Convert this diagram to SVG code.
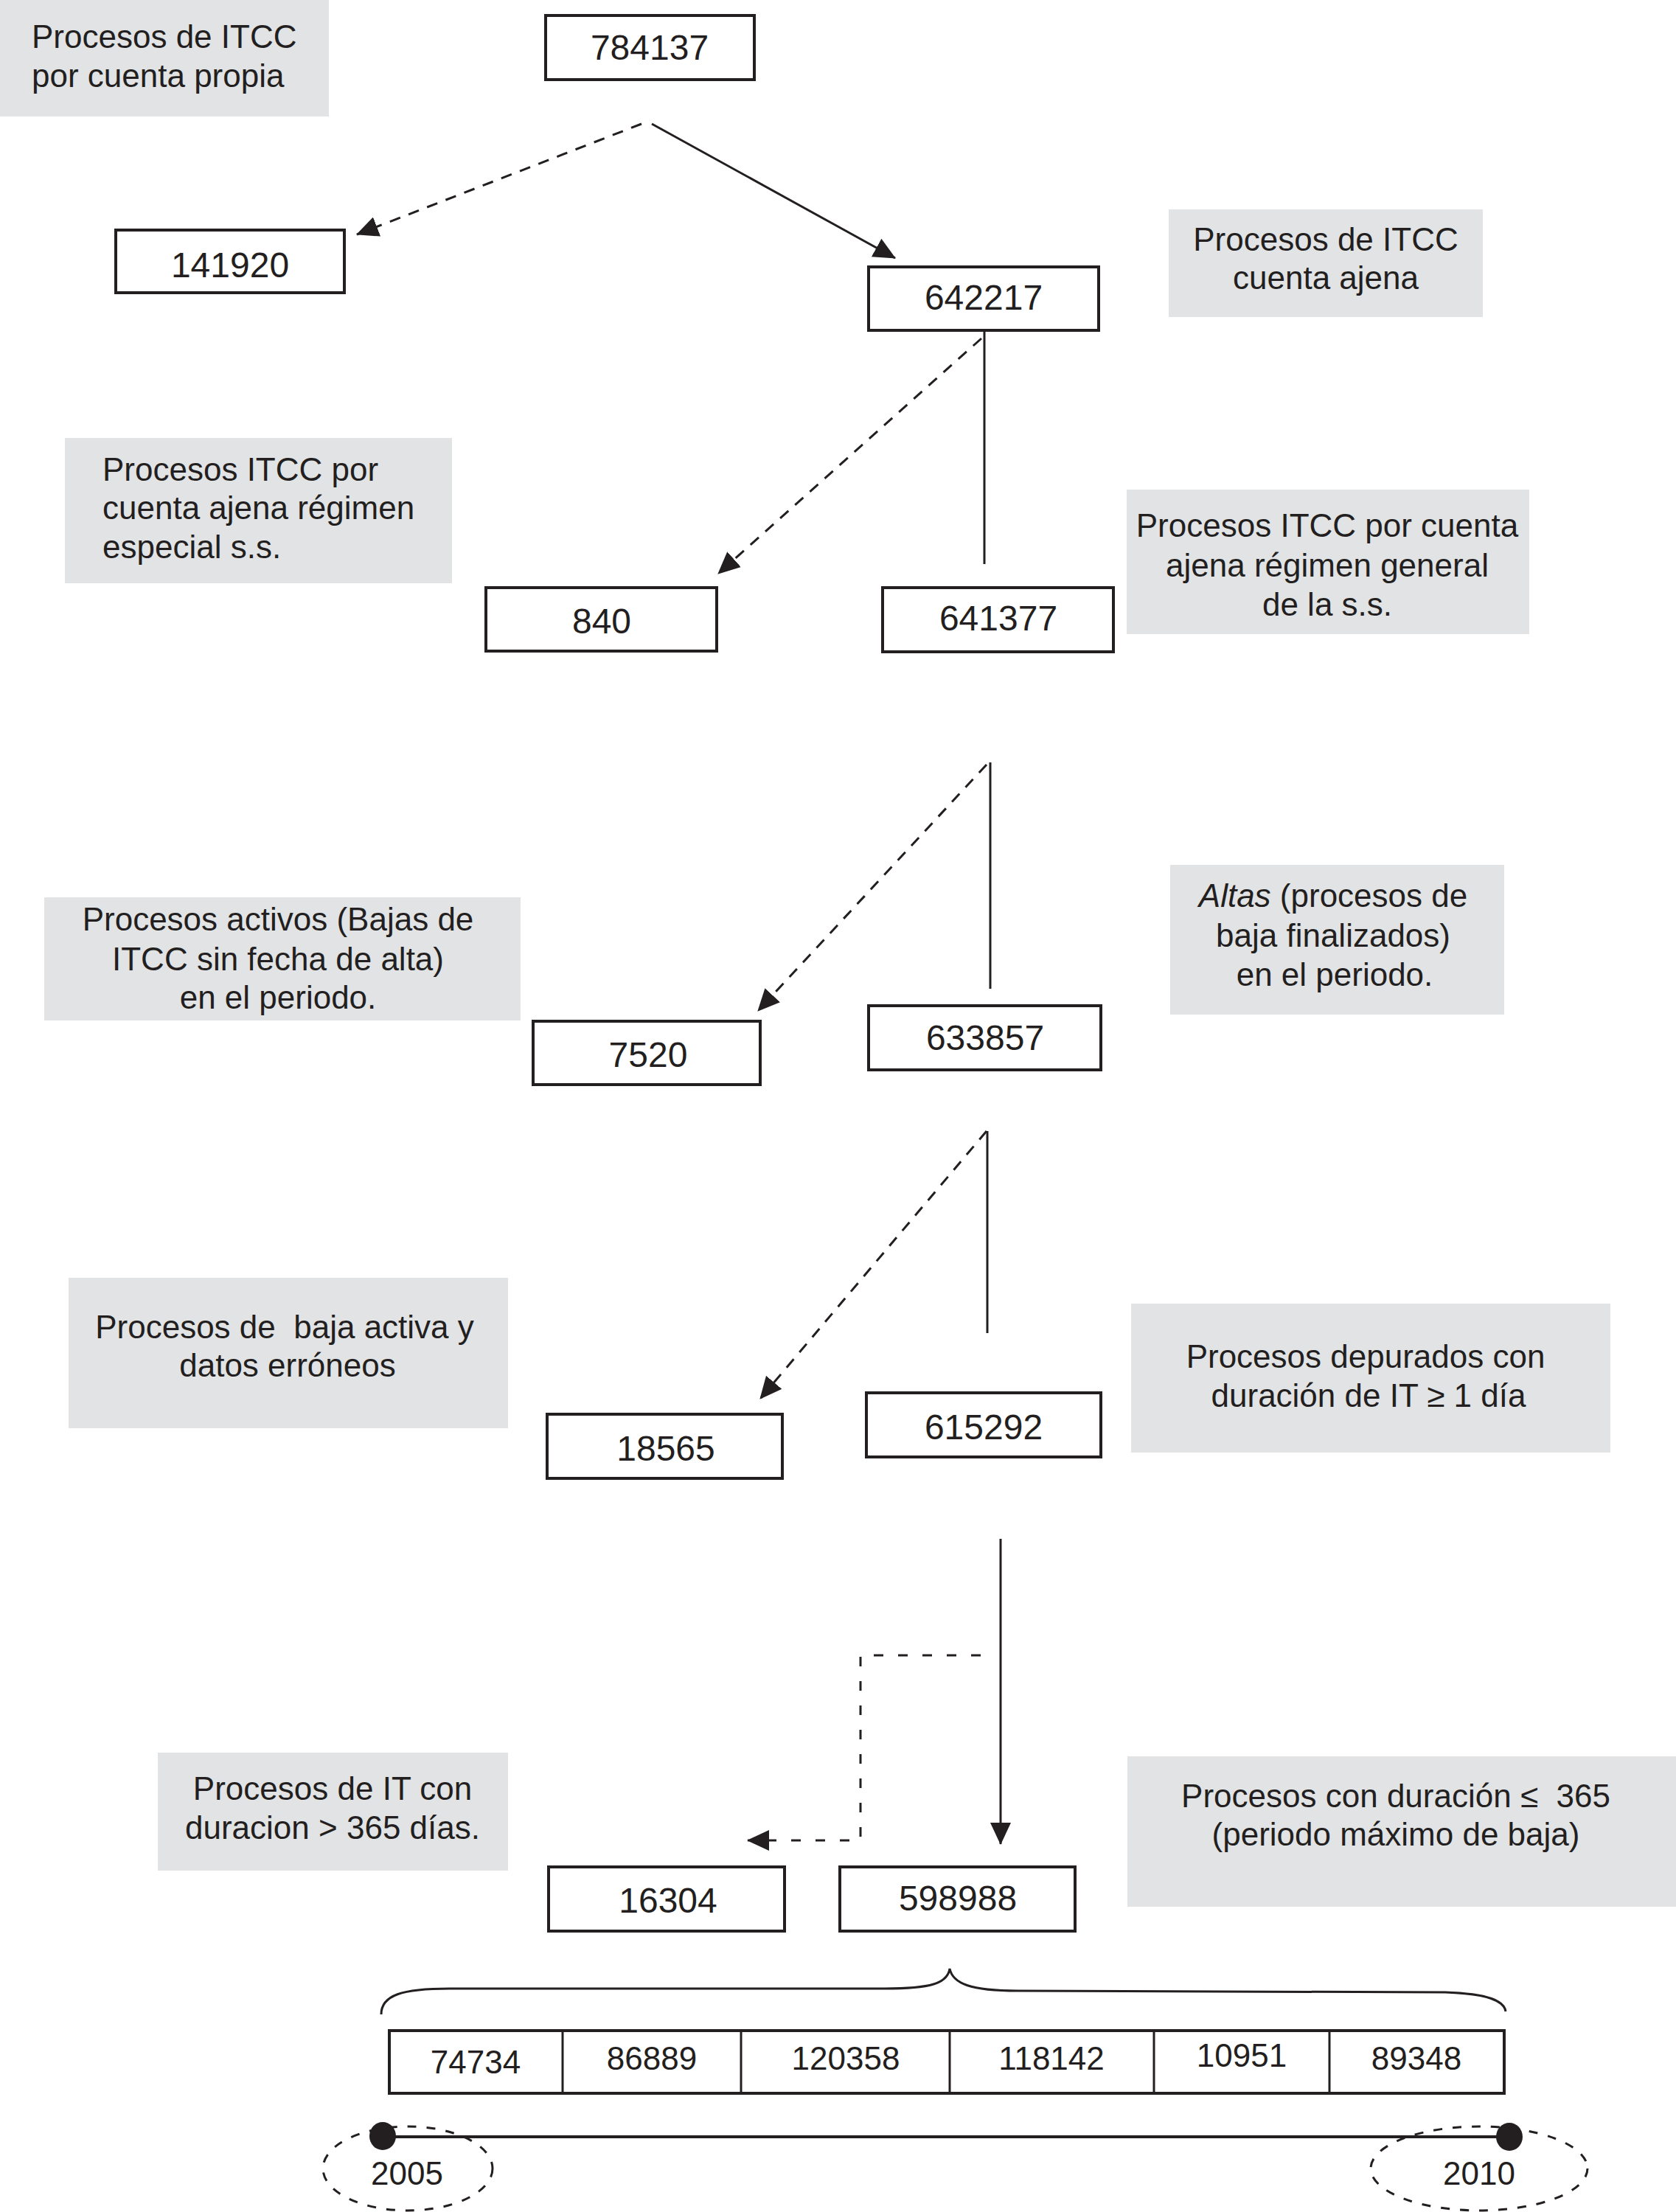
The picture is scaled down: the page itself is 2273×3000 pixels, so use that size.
<svg xmlns="http://www.w3.org/2000/svg" width="2273" height="3000" viewBox="0 0 2273 3000">
<style>
.t{font-family:"Liberation Sans",Arial,sans-serif;fill:#231f20}
.num{font-size:48px;text-anchor:middle}
.lt{font-size:44px}
.c{text-anchor:middle}
.box{fill:#fff;stroke:#231f20;stroke-width:4}
.lbl{fill:#e1e3e5}
.ln{stroke:#231f20;stroke-width:3;fill:none}
.dl{stroke:#231f20;stroke-width:3;fill:none;stroke-dasharray:15 12}
.de{stroke:#231f20;stroke-width:3;fill:none;stroke-dasharray:13 20}
.ell{stroke:#231f20;stroke-width:3;fill:none;stroke-dasharray:12 14}
</style>
<defs>
<marker id="ah" viewBox="0 0 30 28" refX="29" refY="14" markerWidth="30" markerHeight="28" markerUnits="userSpaceOnUse" orient="auto">
<path d="M0,0 L30,14 L0,28 z" fill="#231f20"/>
</marker>
</defs>
<rect width="2273" height="3000" fill="#fff"/>

<g id="labels">
<g id="lbl-propia"><rect class="lbl" x="0" y="0" width="446" height="158"/>
<text class="t lt" x="43" y="65">Procesos de ITCC</text><text class="t lt" x="43" y="118">por cuenta propia</text></g>
<g id="lbl-ajena"><rect class="lbl" x="1585" y="284" width="426" height="146"/>
<text class="t lt c" x="1798" y="340">Procesos de ITCC</text><text class="t lt c" x="1798" y="392">cuenta ajena</text></g>
<g id="lbl-especial"><rect class="lbl" x="88" y="594" width="525" height="197"/>
<text class="t lt" x="139" y="652">Procesos ITCC por</text><text class="t lt" x="139" y="704">cuenta ajena régimen</text><text class="t lt" x="139" y="757">especial s.s.</text></g>
<g id="lbl-general"><rect class="lbl" x="1528" y="664" width="546" height="196"/>
<text class="t lt c" x="1800" y="728">Procesos ITCC por cuenta</text><text class="t lt c" x="1800" y="782">ajena régimen general</text><text class="t lt c" x="1800" y="835">de la s.s.</text></g>
<g id="lbl-activos"><rect class="lbl" x="60" y="1217" width="646" height="167"/>
<text class="t lt c" x="377" y="1262">Procesos activos (Bajas de</text><text class="t lt c" x="377" y="1316">ITCC sin fecha de alta)</text><text class="t lt c" x="377" y="1368">en el periodo.</text></g>
<g id="lbl-altas"><rect class="lbl" x="1587" y="1173" width="453" height="203"/>
<text class="t lt c" x="1808" y="1230"><tspan font-style="italic">Altas</tspan> (procesos de</text><text class="t lt c" x="1808" y="1284">baja finalizados)</text><text class="t lt c" x="1810" y="1337">en el periodo.</text></g>
<g id="lbl-erroneos"><rect class="lbl" x="93" y="1733" width="596" height="204"/>
<text class="t lt c" x="386" y="1815" xml:space="preserve">Procesos de  baja activa y</text><text class="t lt c" x="390" y="1867">datos erróneos</text></g>
<g id="lbl-depurados"><rect class="lbl" x="1534" y="1768" width="650" height="202"/>
<text class="t lt c" x="1852" y="1855">Procesos depurados con</text><text class="t lt c" x="1856" y="1908">duración de IT ≥ 1 día</text></g>
<g id="lbl-mas365"><rect class="lbl" x="214" y="2377" width="475" height="160"/>
<text class="t lt c" x="451" y="2441">Procesos de IT con</text><text class="t lt c" x="451" y="2494">duracion &gt; 365 días.</text></g>
<g id="lbl-menos365"><rect class="lbl" x="1529" y="2382" width="744" height="204"/>
<text class="t lt c" x="1893" y="2451" xml:space="preserve">Procesos con duración ≤  365</text><text class="t lt c" x="1893" y="2503">(periodo máximo de baja)</text></g>
</g>

<g id="connectors">
<line class="dl" x1="870" y1="168" x2="484" y2="318" marker-end="url(#ah)"/>
<line class="ln" x1="884" y1="168" x2="1214" y2="350" marker-end="url(#ah)"/>
<line class="dl" x1="1331" y1="459" x2="974" y2="778" marker-end="url(#ah)"/>
<line class="ln" x1="1335" y1="448" x2="1335" y2="765"/>
<line class="dl" x1="1338" y1="1037" x2="1028" y2="1371" marker-end="url(#ah)"/>
<line class="ln" x1="1343" y1="1034" x2="1343" y2="1341"/>
<line class="dl" x1="1338" y1="1534" x2="1031" y2="1897" marker-end="url(#ah)"/>
<line class="ln" x1="1339" y1="1534" x2="1339" y2="1808"/>
<line class="ln" x1="1357" y1="2087" x2="1357" y2="2501" marker-end="url(#ah)"/>
<path class="de" d="M1330,2245 L1167,2245 L1167,2496 L1014,2496" marker-end="url(#ah)"/>
<path class="ln" d="M517,2732 C517,2706 545,2697 610,2697 L1200,2697 C1262,2697 1285,2690 1288,2670 C1292,2690 1316,2700 1380,2700 L1960,2702 C2020,2704 2040,2714 2042,2728"/>
</g>

<g id="n784137"><rect class="box" x="740" y="21" width="283" height="87"/><text class="t num" x="881" y="81">784137</text></g>
<g id="n141920"><rect class="box" x="157" y="312" width="310" height="85"/><text class="t num" x="312" y="376">141920</text></g>
<g id="n642217"><rect class="box" x="1178" y="362" width="312" height="86"/><text class="t num" x="1334" y="420">642217</text></g>
<g id="n840"><rect class="box" x="659" y="797" width="313" height="86"/><text class="t num" x="816" y="859">840</text></g>
<g id="n641377"><rect class="box" x="1197" y="797" width="313" height="87"/><text class="t num" x="1354" y="855">641377</text></g>
<g id="n7520"><rect class="box" x="723" y="1385" width="308" height="86"/><text class="t num" x="879" y="1447">7520</text></g>
<g id="n633857"><rect class="box" x="1178" y="1364" width="315" height="87"/><text class="t num" x="1336" y="1424">633857</text></g>
<g id="n18565"><rect class="box" x="742" y="1918" width="319" height="87"/><text class="t num" x="903" y="1981">18565</text></g>
<g id="n615292"><rect class="box" x="1175" y="1889" width="318" height="87"/><text class="t num" x="1334" y="1952">615292</text></g>
<g id="n16304"><rect class="box" x="744" y="2532" width="320" height="87"/><text class="t num" x="906" y="2594">16304</text></g>
<g id="n598988"><rect class="box" x="1139" y="2532" width="319" height="87"/><text class="t num" x="1299" y="2591">598988</text></g>

<g id="years-table">
<rect class="box" x="528" y="2754" width="1512" height="85"/>
<line class="ln" x1="763" y1="2754" x2="763" y2="2839"/>
<line class="ln" x1="1005" y1="2754" x2="1005" y2="2839"/>
<line class="ln" x1="1288" y1="2754" x2="1288" y2="2839"/>
<line class="ln" x1="1565" y1="2754" x2="1565" y2="2839"/>
<line class="ln" x1="1803" y1="2754" x2="1803" y2="2839"/>
<text class="t lt c" x="645" y="2812">74734</text>
<text class="t lt c" x="884" y="2807">86889</text>
<text class="t lt c" x="1147" y="2807">120358</text>
<text class="t lt c" x="1426" y="2807">118142</text>
<text class="t lt c" x="1684" y="2803">10951</text>
<text class="t lt c" x="1921" y="2807">89348</text>
</g>

<g id="timeline">
<line x1="519" y1="2898" x2="2046" y2="2898" stroke="#231f20" stroke-width="4"/>
<ellipse cx="519" cy="2897" rx="18" ry="19" fill="#231f20"/>
<ellipse cx="2047" cy="2898" rx="18" ry="19" fill="#231f20"/>
<g id="y2005"><ellipse class="ell" cx="553" cy="2941" rx="115" ry="57"/><text class="t lt c" x="552" y="2963">2005</text></g>
<g id="y2010"><ellipse class="ell" cx="2006" cy="2941" rx="147" ry="57"/><text class="t lt c" x="2006" y="2963">2010</text></g>
</g>
</svg>
